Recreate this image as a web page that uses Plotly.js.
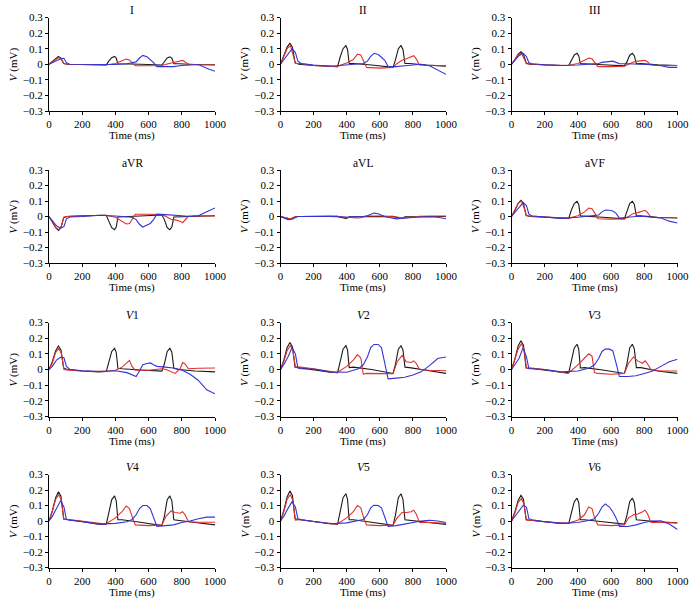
<!DOCTYPE html>
<html>
<head>
<meta charset="utf-8">
<script src="https://cdn.plot.ly/plotly-3.0.1.min.js"></script>
<style>html,body{margin:0;padding:0;background:#fff}#chart{width:695px;height:605px}</style>
</head>
<body>
<div id="chart"></div>
<script>
// Lead names and display titles
const leadTitles = ["I", "II", "III", "aVR", "aVL", "aVF", "<i>V</i>1", "<i>V</i>2", "<i>V</i>3", "<i>V</i>4", "<i>V</i>5", "<i>V</i>6"];
const xTickVals = [0, 200, 400, 600, 800, 1000];
const yTickVals = [-0.3, -0.2, -0.1, 0, 0.1, 0.2, 0.3];

// Time samples (ms) for each coloured trace
const tBlack = [0, 20, 40, 57, 72, 88, 110, 200, 300, 345, 360, 378, 395, 405, 415, 440, 550, 680, 695, 712, 728, 740, 752, 780, 880, 1000];
const tRed = [0, 20, 40, 60, 75, 90, 120, 200, 340, 400, 440, 465, 485, 500, 520, 600, 680, 705, 735, 760, 790, 805, 820, 840, 900, 1000];
const tBlue = [0, 20, 45, 70, 90, 105, 125, 200, 300, 400, 470, 500, 525, 545, 565, 590, 610, 630, 650, 700, 750, 800, 850, 900, 950, 1000];

// Black trace values (mV)
const blk_I = [0, 0.017, 0.04, 0.05, 0.04, 0.005, 0, -0.002, -0.005, -0.005, 0.02, 0.042, 0.05, 0.04, 0.003, 0.003, 0, -0.005, 0.015, 0.04, 0.048, 0.04, 0.003, 0.003, -0.002, -0.003];
const blk_II = [0, 0.05, 0.11, 0.135, 0.11, 0.01, 0, -0.008, -0.013, -0.015, 0.045, 0.1, 0.12, 0.095, 0.005, 0.005, -0.005, -0.02, 0.03, 0.1, 0.12, 0.095, 0.005, 0.005, -0.005, -0.012];
const blk_III = [0, 0.028, 0.065, 0.08, 0.065, 0.008, 0, -0.005, -0.008, -0.008, 0.025, 0.06, 0.07, 0.055, 0.003, 0.003, -0.003, -0.01, 0.015, 0.058, 0.07, 0.055, 0.003, 0.004, -0.003, -0.008];
const blk_aVR = [0, -0.032, -0.072, -0.09, -0.072, -0.008, 0, 0.005, 0.008, 0.008, -0.03, -0.072, -0.085, -0.068, -0.003, -0.002, 0.002, 0.01, -0.02, -0.072, -0.085, -0.068, -0.003, -0.002, 0.002, 0.005];
const blk_aVL = [0, -0.007, -0.014, -0.017, -0.012, -0.002, 0, 0, 0.001, 0.001, -0.005, -0.011, -0.013, -0.01, -0.002, -0.002, 0, 0.001, -0.004, -0.011, -0.013, -0.01, -0.002, -0.002, 0, 0];
const blk_aVF = [0, 0.037, 0.085, 0.105, 0.085, 0.008, 0, -0.005, -0.012, -0.012, 0.04, 0.083, 0.098, 0.078, 0.004, 0.003, -0.005, -0.015, 0.025, 0.083, 0.098, 0.078, 0.004, 0.004, -0.005, -0.01];
const blk_V1 = [0, 0.05, 0.12, 0.15, 0.125, 0.01, 0, -0.01, -0.015, -0.013, 0.045, 0.115, 0.135, 0.11, 0.008, 0.005, -0.003, -0.01, 0.035, 0.115, 0.135, 0.11, 0.008, 0, -0.01, -0.015];
const blk_V2 = [0, 0.06, 0.14, 0.172, 0.145, 0.015, 0.012, -0.003, -0.018, -0.02, 0.045, 0.13, 0.152, 0.125, 0.012, 0.015, 0, -0.025, 0.035, 0.13, 0.152, 0.125, 0.015, 0.012, -0.005, -0.025];
const blk_V3 = [0, 0.065, 0.15, 0.183, 0.155, 0.01, 0.008, -0.005, -0.018, -0.02, 0.05, 0.138, 0.161, 0.13, 0.01, 0.012, -0.003, -0.025, 0.035, 0.138, 0.161, 0.13, 0.012, 0.012, -0.01, -0.025];
const blk_V4 = [0, 0.065, 0.15, 0.188, 0.16, 0.015, 0.01, -0.005, -0.02, -0.02, 0.05, 0.138, 0.162, 0.13, 0.008, 0.008, -0.008, -0.03, 0.03, 0.138, 0.162, 0.13, 0.008, 0.005, -0.01, -0.025];
const blk_V5 = [0, 0.068, 0.155, 0.193, 0.165, 0.015, 0.01, -0.005, -0.018, -0.02, 0.055, 0.15, 0.176, 0.14, 0.008, 0.008, -0.008, -0.028, 0.04, 0.15, 0.176, 0.14, 0.008, 0.005, -0.01, -0.022];
const blk_V6 = [0, 0.058, 0.132, 0.165, 0.14, 0.01, 0.005, -0.005, -0.015, -0.015, 0.045, 0.125, 0.148, 0.118, 0.008, 0.008, -0.005, -0.02, 0.035, 0.125, 0.148, 0.118, 0.008, 0.005, -0.005, -0.012];

// Red trace values (mV)
const red_I = [0, 0.015, 0.035, 0.045, 0.03, 0.005, 0, -0.003, -0.005, 0.005, 0.02, 0.033, 0.028, 0.01, -0.01, -0.01, -0.008, 0, 0.008, 0.012, 0.02, 0.025, 0.015, 0, -0.003, -0.005];
const red_II = [0, 0.05, 0.1, 0.12, 0.07, 0.005, 0.005, -0.008, -0.015, 0.008, 0.03, 0.065, 0.06, 0.03, -0.02, -0.025, -0.02, 0.005, 0.025, 0.035, 0.045, 0.055, 0.035, -0.005, -0.008, -0.01];
const red_III = [0, 0.03, 0.06, 0.07, 0.04, 0.003, 0.002, -0.005, -0.008, 0.005, 0.025, 0.04, 0.035, 0.015, -0.015, -0.015, -0.013, 0, 0.015, 0.02, 0.023, 0.025, 0.015, -0.005, -0.008, -0.008];
const red_aVR = [0, -0.03, -0.07, -0.085, -0.06, -0.003, 0.001, 0.005, 0.008, -0.005, -0.03, -0.048, -0.045, -0.02, 0.015, 0.015, 0.012, 0, -0.018, -0.022, -0.03, -0.04, -0.02, 0.003, 0.005, 0.004];
const red_aVL = [0, -0.005, -0.013, -0.015, -0.008, 0, 0, 0, 0.001, -0.005, -0.01, -0.01, -0.008, -0.003, 0.003, 0.003, 0.002, -0.003, -0.01, -0.01, -0.005, -0.003, 0, 0.002, 0.003, 0.003];
const red_aVF = [0, 0.04, 0.085, 0.1, 0.06, 0.005, 0.003, -0.005, -0.012, 0.005, 0.03, 0.055, 0.05, 0.025, -0.015, -0.017, -0.015, 0, 0.02, 0.025, 0.035, 0.04, 0.025, -0.005, -0.008, -0.008];
const red_V1 = [0, 0.04, 0.11, 0.135, 0.1, 0, -0.005, -0.01, -0.012, -0.005, 0.015, 0.04, 0.058, 0.02, -0.005, -0.005, 0.005, 0, -0.015, -0.025, 0.005, 0.045, 0.035, 0.005, 0.008, 0.01];
const red_V2 = [0, 0.05, 0.12, 0.155, 0.12, 0.015, 0.015, 0.005, -0.02, 0.02, 0.06, 0.095, 0.075, -0.03, -0.025, -0.027, -0.027, 0.05, 0.09, 0.05, 0.045, 0.055, 0.04, 0, -0.005, -0.008];
const red_V3 = [0, 0.06, 0.13, 0.165, 0.13, 0.01, 0.01, 0, -0.025, 0.03, 0.07, 0.1, 0.085, -0.02, -0.025, -0.03, -0.025, 0.04, 0.08, 0.055, 0.04, 0.055, 0.035, 0, -0.01, -0.01];
const red_V4 = [0, 0.06, 0.14, 0.17, 0.13, 0.01, 0.01, 0, -0.02, 0.02, 0.06, 0.097, 0.08, 0.03, -0.025, -0.03, -0.025, 0.03, 0.065, 0.055, 0.05, 0.06, 0.04, -0.005, -0.008, -0.008];
const red_V5 = [0, 0.06, 0.14, 0.17, 0.13, 0.005, 0.01, -0.003, -0.02, 0.02, 0.06, 0.1, 0.085, 0.03, -0.025, -0.03, -0.025, 0.02, 0.055, 0.055, 0.06, 0.07, 0.045, -0.01, -0.01, -0.015];
const red_V6 = [0, 0.05, 0.12, 0.145, 0.11, 0.005, 0.005, -0.005, -0.015, 0.005, 0.04, 0.09, 0.08, 0.02, -0.025, -0.03, -0.025, 0.02, 0.04, 0.045, 0.06, 0.07, 0.045, -0.01, -0.01, -0.012];

// Blue trace values (mV)
const blu_I = [0, 0.01, 0.025, 0.035, 0.038, 0.01, 0, 0, -0.002, -0.002, 0.003, 0.008, 0.015, 0.04, 0.057, 0.048, 0.03, 0.01, -0.015, -0.017, -0.015, -0.008, -0.003, -0.002, -0.025, -0.045];
const blu_II = [0, 0.03, 0.07, 0.1, 0.075, 0.02, 0.005, -0.005, -0.013, -0.005, 0.005, 0.005, 0.02, 0.05, 0.07, 0.062, 0.045, 0.025, -0.015, -0.015, -0.01, -0.005, 0, -0.01, -0.04, -0.065];
const blu_III = [0, 0.025, 0.055, 0.07, 0.05, 0.01, 0.003, -0.003, -0.008, -0.005, 0, 0, 0.005, 0.012, 0.013, 0.018, 0.02, 0.012, 0.003, 0.003, 0.002, 0, -0.003, -0.01, -0.02, -0.02];
const blu_aVR = [0, -0.025, -0.06, -0.075, -0.065, -0.015, -0.003, 0, 0.008, 0.003, -0.002, -0.005, -0.02, -0.05, -0.068, -0.055, -0.045, -0.02, 0.015, 0.012, 0.01, 0.005, 0, 0.005, 0.03, 0.055];
const blu_aVL = [0, -0.01, -0.02, -0.018, -0.005, 0, 0, 0, 0.001, -0.005, -0.003, 0, 0.005, 0.015, 0.022, 0.018, 0.008, 0, -0.005, -0.015, -0.01, -0.005, -0.003, -0.002, -0.005, -0.015];
const blu_aVF = [0, 0.025, 0.06, 0.09, 0.07, 0.015, 0.003, -0.003, -0.012, -0.005, 0.003, 0.005, 0.01, 0.03, 0.042, 0.04, 0.035, 0.02, -0.01, -0.005, 0, 0, -0.003, -0.01, -0.03, -0.042];
const blu_V1 = [0, 0.02, 0.06, 0.078, 0.075, 0.02, 0.002, -0.008, -0.013, -0.008, -0.02, -0.035, -0.045, -0.01, 0.03, 0.038, 0.042, 0.03, 0.02, 0.015, 0.01, -0.003, -0.03, -0.07, -0.13, -0.155];
const blu_V2 = [0, 0.03, 0.08, 0.14, 0.1, 0.01, 0.005, 0.003, -0.015, -0.018, 0.005, 0.03, 0.08, 0.14, 0.16, 0.16, 0.14, 0.05, -0.06, -0.055, -0.05, -0.035, -0.015, 0.025, 0.07, 0.08];
const blu_V3 = [0, 0.03, 0.07, 0.14, 0.08, 0.005, 0.005, 0, -0.015, -0.01, 0.01, 0.03, 0.07, 0.115, 0.13, 0.13, 0.12, 0.04, -0.045, -0.045, -0.04, -0.025, -0.01, 0.02, 0.05, 0.065];
const blu_V4 = [0, 0.03, 0.08, 0.13, 0.09, 0.01, 0.005, -0.003, -0.02, -0.015, -0.005, 0.01, 0.04, 0.08, 0.1, 0.1, 0.08, 0.02, -0.035, -0.03, -0.025, -0.01, 0, 0.015, 0.025, 0.025];
const blu_V5 = [0, 0.03, 0.08, 0.125, 0.09, 0.015, 0.008, -0.003, -0.018, -0.012, 0, 0.01, 0.04, 0.085, 0.102, 0.1, 0.085, 0.03, -0.035, -0.03, -0.02, -0.01, 0, 0.005, 0, -0.01];
const blu_V6 = [0, 0.03, 0.07, 0.1, 0.09, 0.015, 0.008, -0.005, -0.015, -0.01, 0.005, 0.015, 0.05, 0.09, 0.11, 0.09, 0.06, 0.02, -0.035, -0.035, -0.025, -0.01, 0, 0.002, -0.02, -0.055];

const blackSeries = [blk_I, blk_II, blk_III, blk_aVR, blk_aVL, blk_aVF, blk_V1, blk_V2, blk_V3, blk_V4, blk_V5, blk_V6];
const redSeries = [red_I, red_II, red_III, red_aVR, red_aVL, red_aVF, red_V1, red_V2, red_V3, red_V4, red_V5, red_V6];
const blueSeries = [blu_I, blu_II, blu_III, blu_aVR, blu_aVL, blu_aVF, blu_V1, blu_V2, blu_V3, blu_V4, blu_V5, blu_V6];

// Layout geometry (pixels)
const W = 695, H = 605;
const colLeft = [49, 280.5, 511.5], colRight = [215, 446, 677.5];
const rowTop = [17.5, 170, 322.5, 474.5], rowBottom = [111, 263, 416.5, 567.5];
const FONT = "'Liberation Serif', 'Times New Roman', serif";
const colors = {black: "#1a1a1a", red: "#e2302b", blue: "#3434d4"};

const traces = [];
const layout = {
  width: W, height: H,
  margin: {l: 0, r: 0, t: 0, b: 0},
  paper_bgcolor: "#fff", plot_bgcolor: "#fff",
  showlegend: false,
  font: {family: FONT, size: 11, color: "#000"},
  annotations: []
};

for (let i = 0; i < 12; i++) {
  const r = Math.floor(i / 3), c = i % 3;
  const sfx = i === 0 ? "" : String(i + 1);
  const xa = "x" + sfx, ya = "y" + sfx;
  const common = {
    showgrid: false, zeroline: false, showline: true, linecolor: "#000", linewidth: 1,
    ticks: "outside", ticklen: 3, tickwidth: 1, tickcolor: "#000",
    tickfont: {family: FONT, size: 11, color: "#000"}, mirror: false, fixedrange: true
  };
  layout["xaxis" + sfx] = Object.assign({}, common, {
    domain: [colLeft[c] / W, colRight[c] / W], anchor: ya,
    range: [0, 1000], tickvals: xTickVals
  });
  layout["yaxis" + sfx] = Object.assign({}, common, {
    domain: [1 - rowBottom[r] / H, 1 - rowTop[r] / H], anchor: xa,
    range: [-0.3, 0.3], tickvals: yTickVals, tickformat: ".1~f"
  });
  [[tBlack, blackSeries[i], colors.black], [tRed, redSeries[i], colors.red], [tBlue, blueSeries[i], colors.blue]].forEach(([t, v, col]) => {
    traces.push({x: t, y: v, xaxis: xa, yaxis: ya, type: "scatter", mode: "lines",
      line: {color: col, width: 1.1}, hoverinfo: "skip"});
  });
  const cx = (colLeft[c] + colRight[c]) / 2 / W;
  layout.annotations.push({text: leadTitles[i], xref: "paper", yref: "paper", x: cx, y: 1 - (rowTop[r] - 7.5) / H,
    xanchor: "center", yanchor: "middle", showarrow: false, font: {family: FONT, size: 11.5, color: "#000"}});
  layout.annotations.push({text: "Time (ms)", xref: "paper", yref: "paper", x: cx, y: 1 - (rowBottom[r] + 24.5) / H,
    xanchor: "center", yanchor: "middle", showarrow: false, font: {family: FONT, size: 11, color: "#000"}});
  layout.annotations.push({text: "<i>V</i> (mV)", xref: "paper", yref: "paper", x: (colLeft[c] - 36) / W,
    y: 1 - (rowTop[r] + rowBottom[r]) / 2 / H, textangle: -90,
    xanchor: "center", yanchor: "middle", showarrow: false, font: {family: FONT, size: 11, color: "#000"}});
}

Plotly.newPlot("chart", traces, layout, {staticPlot: true, displayModeBar: false});
</script>
</body>
</html>
